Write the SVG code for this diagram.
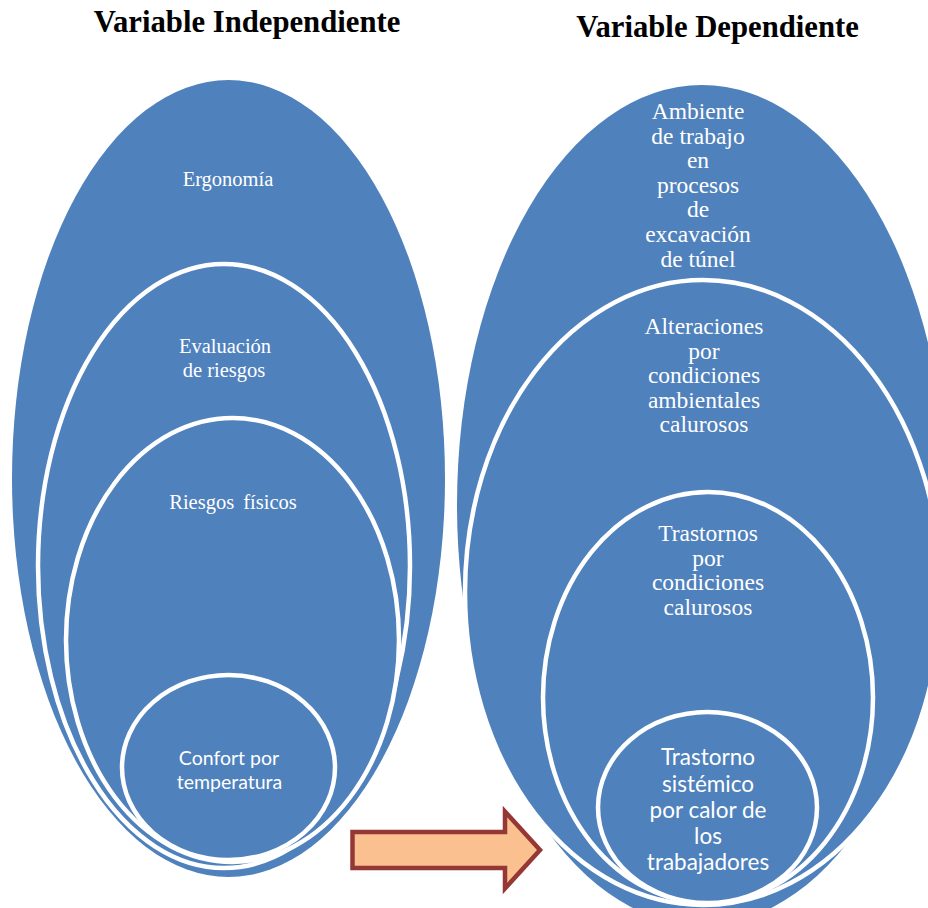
<svg xmlns="http://www.w3.org/2000/svg" width="928" height="908" viewBox="0 0 928 908">
<style>
.bg{fill:#4F81BD;}
.ring{fill:#4F81BD;stroke:#FFFFFF;stroke-width:4.5;}
.title{font-family:"Liberation Serif","Times New Roman",serif;font-weight:bold;font-size:30.7px;fill:#000;text-anchor:middle;}
.tl{font-family:"Liberation Serif","Times New Roman",serif;font-size:20.5px;fill:#FFFFFF;text-anchor:middle;}
.tr{font-family:"Liberation Serif","Times New Roman",serif;font-size:23.5px;fill:#FFFFFF;text-anchor:middle;}
.sl{font-family:Lato,"Noto Sans",sans-serif;font-size:19.5px;fill:#FFFFFF;text-anchor:middle;}
.sr{font-family:Lato,"Noto Sans",sans-serif;font-size:22.5px;fill:#FFFFFF;text-anchor:middle;}
.arrow{fill:#FAC090;stroke:#953735;stroke-width:4.5;stroke-linejoin:miter;}
</style>

<g id="titles">
<text class="title" x="247" y="32">Variable Independiente</text>
<text class="title" x="717.5" y="37">Variable Dependiente</text>
</g>

<g id="node-ergonomia">
<ellipse class="bg" cx="228.5" cy="478.5" rx="216.5" ry="398.5"/>
<text class="tl" x="228" y="186">Ergonomía</text>
</g>
<g id="node-evaluacion">
<ellipse class="ring" cx="224" cy="566" rx="186" ry="302"/>
<text class="tl" x="225" y="352.5">Evaluación</text>
<text class="tl" x="224" y="376.5">de riesgos</text>
</g>
<g id="node-riesgos">
<ellipse class="ring" cx="232.5" cy="640" rx="166.5" ry="222"/>
<text class="tl" x="233" y="509" word-spacing="4">Riesgos físicos</text>
</g>
<g id="node-confort">
<ellipse class="ring" cx="228.5" cy="767.5" rx="106.5" ry="92.5"/>
<text class="sl" x="229" y="764.5">Confort por</text>
<text class="sl" x="229.5" y="789">temperatura</text>
</g>

<g id="node-ambiente">
<ellipse class="bg" cx="702" cy="505" rx="245" ry="420"/>
<text class="tr" x="698" y="119">Ambiente</text>
<text class="tr" x="698" y="143.6">de trabajo</text>
<text class="tr" x="698" y="168.2">en</text>
<text class="tr" x="698" y="192.8">procesos</text>
<text class="tr" x="698" y="217.4">de</text>
<text class="tr" x="698" y="242">excavación</text>
<text class="tr" x="698" y="266.6">de túnel</text>
</g>
<g id="node-alteraciones">
<ellipse class="ring" cx="703" cy="592.5" rx="238" ry="312.5"/>
<text class="tr" x="704" y="334">Alteraciones</text>
<text class="tr" x="704" y="358.6">por</text>
<text class="tr" x="704" y="383.2">condiciones</text>
<text class="tr" x="704" y="407.8">ambientales</text>
<text class="tr" x="704" y="432.4">calurosos</text>
</g>
<g id="node-trastornos">
<ellipse class="ring" cx="708" cy="697.5" rx="165" ry="205.5"/>
<text class="tr" x="708" y="541">Trastornos</text>
<text class="tr" x="708" y="565.6">por</text>
<text class="tr" x="708" y="590.2">condiciones</text>
<text class="tr" x="708" y="614.8">calurosos</text>
</g>
<g id="node-trastorno-sistemico">
<ellipse class="ring" cx="707.5" cy="807.5" rx="109.5" ry="95.5"/>
<text class="sr" x="708" y="764.5">Trastorno</text>
<text class="sr" x="708" y="791.5">sistémico</text>
<text class="sr" x="708" y="818">por calor de</text>
<text class="sr" x="708" y="843.5">los</text>
<text class="sr" x="708" y="870">trabajadores</text>
</g>

<g id="connectors">
<path class="arrow" d="M352.5,832 L505,832 L505,811.5 L540,850 L505,888.5 L505,868 L352.5,868 Z"/>
</g>
</svg>
